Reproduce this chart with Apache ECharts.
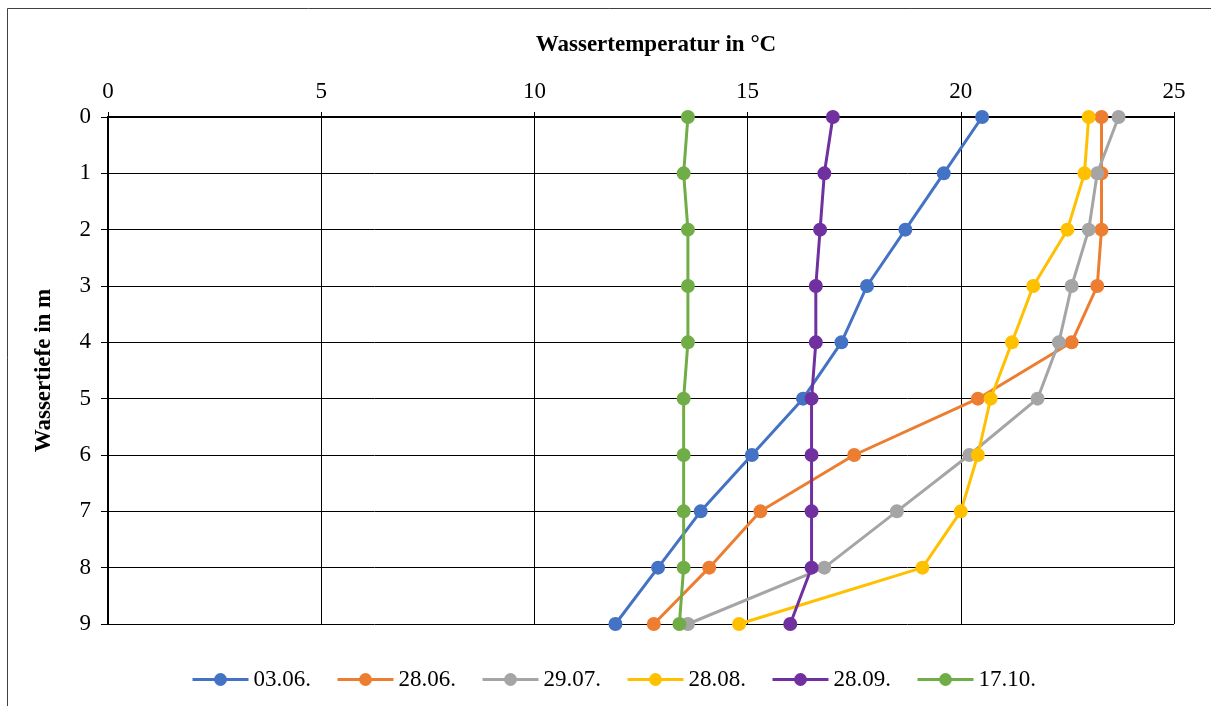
<!DOCTYPE html>
<html>
<head>
<meta charset="utf-8">
<script src="https://cdn.jsdelivr.net/npm/echarts@6/dist/echarts.min.js"></script>
<style>
html,body{margin:0;padding:0;background:#fff;}
#chart{width:1211px;height:706px;}
</style>
</head>
<body>
<div id="chart"></div>
<script>
const depths = [0, 1, 2, 3, 4, 5, 6, 7, 8, 9];
const seriesNames = ['03.06.', '28.06.', '29.07.', '28.08.', '28.09.', '17.10.'];
const t0306 = [20.5, 19.6, 18.7, 17.8, 17.2, 16.3, 15.1, 13.9, 12.9, 11.9];
const t2806 = [23.3, 23.3, 23.3, 23.2, 22.6, 20.4, 17.5, 15.3, 14.1, 12.8];
const t2907 = [23.7, 23.2, 23.0, 22.6, 22.3, 21.8, 20.2, 18.5, 16.8, 13.6];
const t2808 = [23.0, 22.9, 22.5, 21.7, 21.2, 20.7, 20.4, 20.0, 19.1, 14.8];
const t2809 = [17.0, 16.8, 16.7, 16.6, 16.6, 16.5, 16.5, 16.5, 16.5, 16.0];
const t1710 = [13.6, 13.5, 13.6, 13.6, 13.6, 13.5, 13.5, 13.5, 13.5, 13.4];
const colors = ['#4472C4', '#ED7D31', '#A5A5A5', '#FFC000', '#7030A0', '#70AD47'];
const allTemps = [t0306, t2806, t2907, t2808, t2809, t1710];

const FONT = '"Liberation Serif", "Times New Roman", serif';
const chart = echarts.init(document.getElementById('chart'), null, {renderer: 'canvas'});
chart.setOption({
  animation: false,
  backgroundColor: '#fff',
  title: {
    text: 'Wassertemperatur in °C',
    left: 651, textAlign: 'center', top: 29,
    textStyle: {fontFamily: FONT, fontSize: 23, fontWeight: 'bold', color: '#000'}
  },
  graphic: [{
    type: 'rect', shape: {x: 7.5, y: 8.5, width: 1215, height: 710},
    style: {fill: 'none', stroke: '#404040', lineWidth: 1}, silent: true, z: -1
  }],
  legend: {
    left: 191, top: 668, padding: 0,
    itemWidth: 56, itemHeight: 16, itemGap: 25,
    lineStyle: {width: 3},
    textStyle: {fontFamily: FONT, fontSize: 23, color: '#000'},
    data: seriesNames
  },
  grid: {left: 108, top: 117, right: 37, bottom: 82},
  xAxis: {
    type: 'value', position: 'top', min: 0, max: 25, interval: 5,
    axisLine: {show: true, lineStyle: {color: '#000', width: 2}},
    axisTick: {show: true, length: 5, lineStyle: {color: '#000'}},
    axisLabel: {fontFamily: FONT, fontSize: 23, color: '#000', margin: 14},
    splitLine: {show: true, lineStyle: {color: '#000', width: 1}}
  },
  yAxis: {
    type: 'value', inverse: true, min: 0, max: 9, interval: 1,
    name: 'Wassertiefe in m', nameLocation: 'middle', nameGap: 52, nameRotate: 90,
    nameTextStyle: {fontFamily: FONT, fontSize: 23, fontWeight: 'bold', color: '#000'},
    axisLine: {show: true, lineStyle: {color: '#000', width: 2}},
    axisTick: {show: true, length: 7, lineStyle: {color: '#000'}},
    axisLabel: {fontFamily: FONT, fontSize: 23, color: '#000', margin: 17},
    splitLine: {show: true, lineStyle: {color: '#000', width: 1}}
  },
  series: seriesNames.map((name, i) => ({
    name: name,
    type: 'line',
    data: depths.map((d, j) => [allTemps[i][j], d]),
    symbol: 'circle', symbolSize: 14,
    lineStyle: {color: colors[i], width: 3},
    itemStyle: {color: colors[i]},
    z: 2 + i
  }))
});
</script>
</body>
</html>
